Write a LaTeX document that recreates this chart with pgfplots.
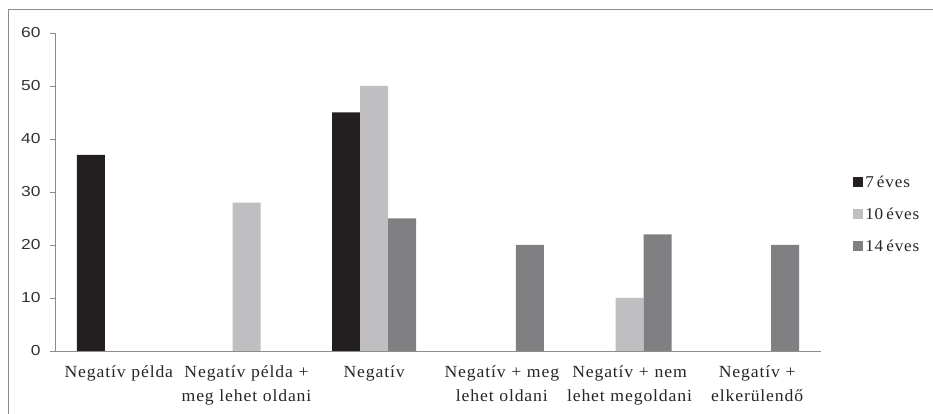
\documentclass[border=0pt]{standalone}
\usepackage{fontspec}
\setmainfont{Liberation Serif}[FakeStretch=1.04, LetterSpace=5, WordSpace=0.6]
\newfontfamily\ticksans{Liberation Sans}[FakeStretch=1.2]
\usepackage{pgfplots}
\pgfplotsset{compat=1.18}

\definecolor{barblack}{HTML}{231F20}
\definecolor{barlight}{HTML}{BFBFC1}
\definecolor{bardark}{HTML}{808083}
\definecolor{axisgray}{HTML}{8C8C8C}

\begin{document}
\begin{tikzpicture}[x=1pt,y=1pt]
\path[use as bounding box] (0,0) rectangle (933,414);
% chart frame
\draw[axisgray, line width=1pt] (8,-2) -- (8,404) -- (935,404);
\begin{axis}[
  at={(55pt,63pt)}, anchor=south west,
  scale only axis, width=766pt, height=318pt,
  xmin=0.5, xmax=6.5, ymin=0, ymax=60,
  axis x line=bottom, axis y line=left,
  axis line style={axisgray, line width=0.8pt, -},
  ybar=0pt, bar width=28pt,
  ytick={0,10,...,60},
  yticklabel style={font=\ticksans\fontsize{14.5}{16}\selectfont, text=black!80, xshift=-6pt},
  /pgf/number format/assume math mode=true,
  xtick={1,...,6},
  xticklabels={Negatív példa, Negatív példa +\\meg lehet oldani, Negatív, Negatív + meg\\lehet oldani, Negatív + nem\\lehet megoldani, Negatív +\\elkerülendő},
  xticklabel style={font=\fontsize{17}{24}\selectfont, align=center, text width=135pt, text=black!85, yshift=-6pt},
  x tick style={draw=none},
  extra x ticks={0.5,1.5,...,6.5},
  extra x tick labels={},
  extra x tick style={tick style={draw=axisgray, line width=0.8pt}, major tick length=10pt, tick align=center},
  y tick style={draw=axisgray, line width=0.8pt},
  major tick length=5pt, tick align=outside,
  legend style={at={(1.038,0.43)}, anchor=west, draw=none, fill=none,
    font=\fontsize{16.5}{18}\selectfont, row sep=15pt, text=black!85},
  legend cell align=left,
  legend image code/.code={\fill[#1] (0pt,-5pt) rectangle (10pt,5pt);},
  clip=false,
]
\addplot[fill=barblack, draw=none] coordinates {(1,37) (3,45)};
\addplot[fill=barlight, draw=none] coordinates {(2,28) (3,50) (5,10)};
\addplot[fill=bardark, draw=none] coordinates {(3,25) (4,20) (5,22) (6,20)};
\legend{7 éves, 10 éves, 14 éves}
\end{axis}
\end{tikzpicture}
\end{document}
